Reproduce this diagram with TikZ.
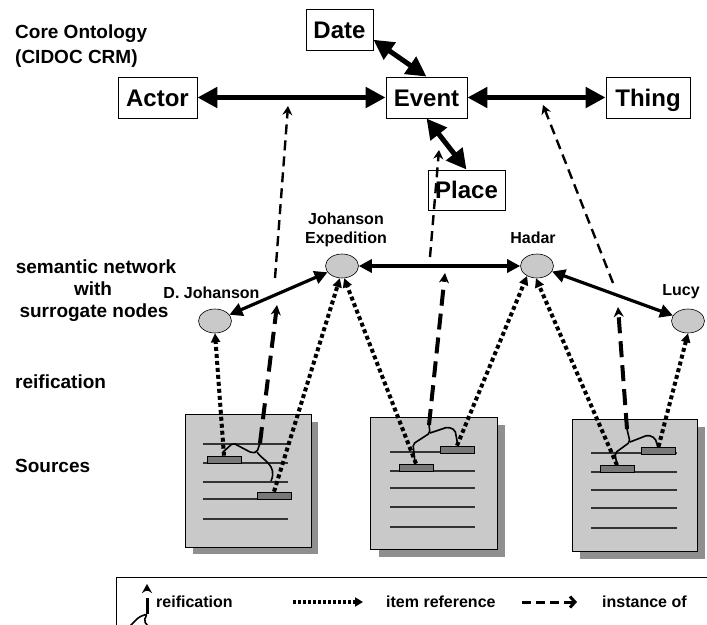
\documentclass[tikz,border=0pt]{standalone}
\usepackage{fontspec}
\setmainfont{Liberation Sans}
\usepackage{tikz}
\usetikzlibrary{arrows.meta,shapes.geometric}
\definecolor{docfill}{gray}{0.79}
\definecolor{docshadow}{gray}{0.56}
\definecolor{tagfill}{gray}{0.47}

\begin{document}
\begin{tikzpicture}[x=1pt,y=-1pt]
        \useasboundingbox (0,0) rectangle (707,624);

        \begin{scope}[every node/.style={font=\fontsize{19}{25}\selectfont\bfseries, anchor=base west, inner sep=0pt}]
            \node (core) at (15,38) {Core Ontology};
            \node (crm) at (15,63) {(CIDOC CRM)};
            \node (sem) [anchor=base] at (96,273) {semantic network};
            \node (with) [anchor=base] at (93,295) {with};
            \node (surr) [anchor=base] at (94,317) {surrogate nodes};
            \node (reif) at (15,388) {reification};
            \node (src) at (15,472) {Sources};
        \end{scope}

        \begin{scope}[every node/.style={draw, line width=0.8pt, fill=white, font=\fontsize{24}{24}\selectfont\bfseries,
                      inner sep=0pt, text height=17pt, text depth=0pt, minimum height=41pt}]
            \node (actor) [minimum width=79pt] at (157.5,97.5) {Actor};
            \node (event) [minimum width=81pt] at (426.5,97.5) {Event};
            \node (thing) [minimum width=84pt] at (648,97.5) {Thing};
            \node (date) [minimum width=67pt] at (339.5,30) {Date};
            \node (place) [minimum width=77pt, minimum height=40pt] at (466.5,190) {Place};
        \end{scope}

        \begin{scope}[every node/.style={ellipse, draw, line width=0.6pt, fill=docfill,
                      minimum width=33pt, minimum height=24pt, inner sep=0pt}]
            \node (jexp) at (342,266) {};
            \node (hadar) at (537,266) {};
            \node (djoh) at (215,321) {};
            \node (lucy) at (688,321) {};
        \end{scope}

        \begin{scope}[every node/.style={font=\fontsize{16}{19}\selectfont\bfseries, anchor=base, inner sep=0pt}]
            \node (jexplbl) at (346,224) {Johanson};
            \node (jexplbl2) at (346,243) {Expedition};
            \node (hadarlbl) at (533,243) {Hadar};
            \node (djohlbl) at (211.5,298) {D. Johanson};
            \node (lucylbl) at (681,295) {Lucy};
        \end{scope}

        % sources
        \begin{scope}[textline/.style={draw=black!80, line width=1.1pt},
                      reifline/.style={draw=black, line width=1.6pt, rounded corners=2pt, line join=round}]
            \fill[docshadow] (193,422) rectangle (318,554);
            \draw[fill=docfill, line width=0.8pt] (185,414) rectangle (311,547);
            \foreach \y in {444,463,482,499,519} \draw[textline] (203,\y) -- (288,\y);

            \fill[docshadow] (379,425) rectangle (505,557);
            \draw[fill=docfill, line width=0.8pt] (370,417) rectangle (497,549);
            \foreach \y in {452,471,488,507,527} \draw[textline] (390,\y) -- (475,\y);

            \fill[docshadow] (580,427) rectangle (705,559);
            \draw[fill=docfill, line width=0.8pt] (572,419) rectangle (697,551);
            \foreach \y in {453,472,490,508,528} \draw[textline] (591,\y) -- (677,\y);

            \coordinate (r1) at (260,443);
            \coordinate (f1) at (257,452);
            \coordinate (r2) at (429,425);
            \coordinate (f2) at (430,433);
            \coordinate (r3) at (627,429);
            \coordinate (f3) at (630,442);

            \draw[reifline] (223,452) -- (233,443) -- (252,453) -- (f1) -- (r1);
            \draw[reifline] (f1) .. controls (262,460) and (278,465) .. (271,481);
            \draw[reifline] (r2) -- (f2) -- (413,444) -- (415,463);
            \draw[reifline] (f2) -- (448,427) -- (455,430) -- (458,446);
            \draw[reifline] (r3) -- (f3) -- (615,453) -- (617,466);
            \draw[reifline] (f3) -- (648,435) -- (655,438) -- (658,447);
        \end{scope}

        \begin{scope}[every node/.style={draw, fill=tagfill, line width=0.7pt, minimum width=34pt, minimum height=7pt, inner sep=0pt}]
            \node (s1a) at (224,459.5) {};
            \node (s1b) at (274,495.5) {};
            \node (s2a) at (416,467.5) {};
            \node (s2b) at (457,449.5) {};
            \node (s3a) at (617,469) {};
            \node (s3b) at (658.5,450.5) {};
        \end{scope}

        \coordinate (i1) at (277,305);
        \coordinate (i2) at (445,273);
        \coordinate (i3) at (618,307);
        \coordinate (o1) at (275,278);
        \coordinate (o2) at (430,257);
        \coordinate (o3) at (613,283);
        \coordinate (c1) at (288,106);
        \coordinate (c2) at (439,150);
        \coordinate (c3) at (543,105);

        \begin{scope}[>={Triangle[length=20pt,width=20pt]},
                      every edge/.style={draw=black, line width=5pt}]
            \path [<->] (actor) edge (event);
            \path [<->] (event) edge (thing);
            \path [<->] (event.south) edge (place.north);
            \path [<->, line width=6pt] (date.-16) edge (event.north);
        \end{scope}

        \begin{scope}[>={Triangle[length=13pt,width=13pt]},
                      every edge/.style={draw=black, line width=3.2pt}]
            \path [<->] (djoh) edge (jexp);
            \path [<->] (jexp) edge (hadar);
            \path [<->] (hadar) edge (lucy);
        \end{scope}

        \begin{scope}[>={Triangle[length=9pt,width=9pt]},
                      every edge/.style={draw=black, line width=4pt, dash pattern=on 4pt off 3pt}]
            \path [->] (s1a.north) edge (djoh.south);
            \path [->] (s1b.north) edge (jexp.-100);
            \path [->] (s2a.north) edge (jexp.-80);
            \path [->] (s2b.north) edge (hadar.-135);
            \path [->] (s3a.north) edge (hadar.-95);
            \path [->] (s3b.north) edge (lucy.south);
        \end{scope}

        \begin{scope}[>={Stealth[length=10pt,width=10pt]},
                      every edge/.style={draw=black, line width=4pt, dash pattern=on 16pt off 8pt}]
            \path [->] (r1) edge (i1);
            \path [->] (r2) edge (i2);
            \path [->] (r3) edge (i3);
        \end{scope}

        \begin{scope}[>={Stealth[length=9pt,width=10pt]},
                      every edge/.style={draw=black, line width=2.4pt, dash pattern=on 10pt off 6pt}]
            \path [->] (o1) edge (c1);
            \path [->] (o2) edge (c2);
            \path [->] (o3) edge (c3);
        \end{scope}

        % legend
        \draw[line width=0.8pt] (116,640) -- (116,577) -- (720,577) -- (720,640);
        \coordinate (lf) at (147,614);
        \coordinate (lt) at (147,584);
        \coordinate (la1) at (293,602);
        \coordinate (la2) at (363,602);
        \coordinate (lb1) at (522,602);
        \coordinate (lb2) at (577,602);
        \draw[line width=1.6pt, rounded corners=2pt] (129,627) -- (139,617) -- (lf) -- (144,621) -- (151,630);
        \begin{scope}[every node/.style={font=\fontsize{16}{19}\selectfont\bfseries, anchor=base west, inner sep=0pt}]
            \node (legreif) at (156,607) {reification};
            \node (legitem) at (386,607) {item reference};
            \node (leginst) at (602,607) {instance of};
        \end{scope}
        \path [->, >={Stealth[length=9pt,width=10pt]}] (lf) edge [draw, line width=3pt, dash pattern=on 16pt off 7pt] (lt);
        \path [->, >={Triangle[length=8pt,width=9pt]}] (la1) edge [draw, line width=3.5pt, dash pattern=on 3pt off 2pt] (la2);
        \path [->, >={Straight Barb[length=5pt,width=11pt]}] (lb1) edge [draw, line width=3pt, dash pattern=on 9pt off 5pt] (lb2);
\end{tikzpicture}
\end{document}
